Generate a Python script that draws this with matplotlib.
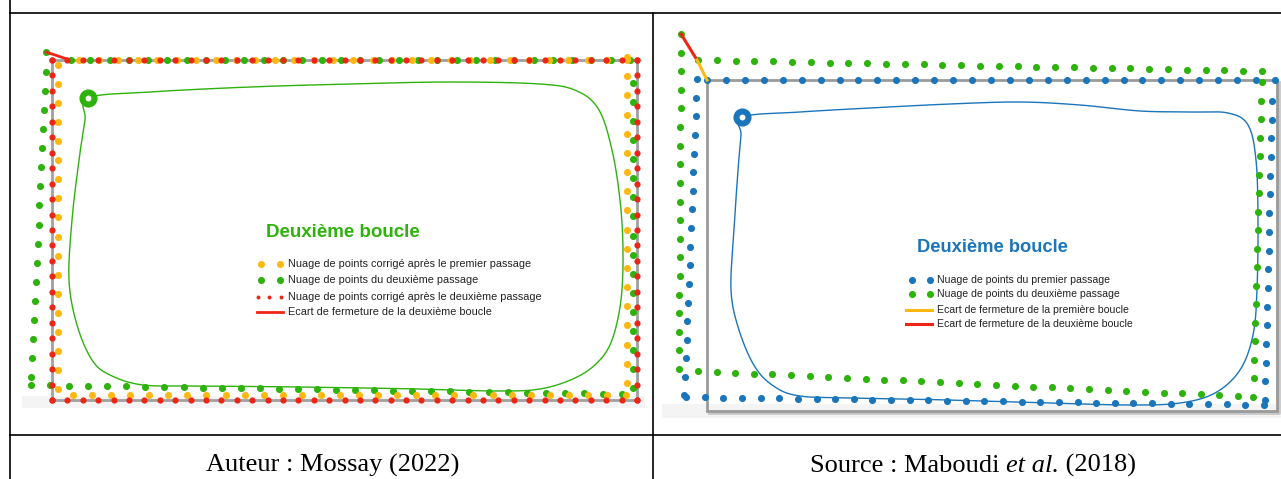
import numpy as np
import matplotlib.pyplot as plt

W, H = 1281, 479

GREEN = '#2eb20c'
YELLOW = '#fdb813'
RED = '#ee2414'
BLUE = '#1b75bb'
GREY = '#a0a0a0'

# ---- left panel (Mossay 2022) ----
left_frame = (52, 60, 637, 400)  # x0, y0, x1, y1

# dot chains: (x_start, y_start, x_end, y_end, number of dots)
left_red = [(52, 60, 637, 60, 39), (637, 60, 637, 400, 23),
            (52, 400, 637, 400, 39), (52, 60, 52, 400, 23)]
left_yellow = [(79, 60, 627, 60, 29), (58, 65, 58, 389, 18),
               (73, 395, 626, 395, 30), (627, 57, 627, 383, 18)]
left_green = [(46, 52, 46, 52, 1), (46, 72, 31, 377, 17),
              (71, 60, 630, 60, 30), (31, 385, 622, 394, 32),
              (633, 83, 633, 388, 17)]
left_gap = [(46, 52), (67, 59)]

left_track = [(88, 98), (150, 92), (250, 87), (350, 84), (450, 82), (540, 84),
              (577, 91), (599, 110), (612, 150), (620, 200), (623, 250),
              (621, 300), (612, 340), (598, 362), (575, 378), (540, 389),
              (495, 391), (420, 389), (300, 387), (200, 386), (143, 385),
              (110, 375), (92, 360), (77, 325), (69, 280), (72, 220),
              (79, 160), (85, 120)]

# ---- right panel (Maboudi et al. 2018) ----
right_frame = (707, 80, 1277, 411)

right_blue = [(707, 80, 1275, 80, 31), (697, 79, 685, 377, 17),
              (684, 395, 684, 395, 1), (686, 397, 1264, 405, 32),
              (1272, 101, 1265, 400, 17)]
right_green = [(681, 34, 679, 369, 19), (698, 60, 1262, 71, 31),
               (698, 371, 1238, 396, 30), (1262, 82, 1253, 397, 18)]
gap_first = [(697, 60), (707, 80)]
gap_second = [(681, 34), (697, 60)]

right_track = [(742, 117), (800, 112), (870, 108), (950, 104), (1020, 102),
               (1080, 105), (1140, 111), (1190, 112), (1228, 113), (1248, 125),
               (1256, 160), (1258, 220), (1257, 290), (1253, 335), (1240, 370),
               (1215, 393), (1180, 403), (1130, 405), (1050, 403), (950, 400),
               (850, 398), (800, 396), (775, 387), (755, 367), (739, 330),
               (731, 290), (734, 230), (738, 170), (741, 135)]


def chain(segments):
    xs, ys = [], []
    for x0, y0, x1, y1, n in segments:
        xs.append(np.linspace(x0, x1, n))
        ys.append(np.linspace(y0, y1, n))
    return np.concatenate(xs), np.concatenate(ys)


def smooth_loop(points, steps=24):
    # closed Catmull-Rom spline through the waypoints
    p = np.array(points, dtype=float)
    n = len(p)
    out = []
    t = np.linspace(0, 1, steps, endpoint=False)[:, None]
    for i in range(n):
        p0, p1, p2, p3 = p[i - 1], p[i], p[(i + 1) % n], p[(i + 2) % n]
        out.append(0.5 * ((2 * p1) + (-p0 + p2) * t
                          + (2 * p0 - 5 * p1 + 4 * p2 - p3) * t ** 2
                          + (-p0 + 3 * p1 - 3 * p2 + p3) * t ** 3))
    out.append(p[:1])
    return np.vstack(out)


def dots(ax, segments, color, size=26, z=3):
    x, y = chain(segments)
    ax.scatter(x, y, s=size, color=color, linewidths=0, zorder=z)


def frame(ax, box, lw=2.0, color=GREY):
    x0, y0, x1, y1 = box
    ax.plot([x0, x1, x1, x0, x0], [y0, y0, y1, y1, y0], color=color,
            lw=lw, zorder=2, solid_joinstyle='miter')


fig = plt.figure(figsize=(W / 100, H / 100), dpi=100)
ax = fig.add_axes([0, 0, 1, 1])
ax.set_xlim(0, W)
ax.set_ylim(H, 0)
ax.axis('off')

# faint background strips under each picture
ax.fill_between([22, 645], 396, 408, color='#f4f4f4', lw=0, zorder=0)
ax.fill_between([662, 1281], 404, 418, color='#f4f4f4', lw=0, zorder=0)

# table rules
ax.plot([10, W], [13, 13], color='black', lw=1.2)
ax.plot([10, W], [435, 435], color='black', lw=1.2)
ax.plot([10, 10], [0, H], color='black', lw=1.2)
ax.plot([653, 653], [13, H], color='black', lw=1.2)

# left panel
frame(ax, left_frame, lw=2.0)
track = smooth_loop(left_track)
ax.plot(track[:, 0], track[:, 1], color=GREEN, lw=1.0, zorder=2)
ax.scatter([left_track[0][0]], [left_track[0][1]], s=170, color=GREEN, lw=0, zorder=4)
ax.scatter([left_track[0][0]], [left_track[0][1]], s=18, color='white', lw=0, zorder=5)
dots(ax, left_green, GREEN, z=3)
dots(ax, left_yellow, YELLOW, z=3)
dots(ax, left_red, RED, size=20, z=4)
ax.plot(*zip(*left_gap), color=RED, lw=2.0, zorder=5)

ax.text(266, 232, 'Deuxième boucle', color=GREEN, fontsize=13.5,
        fontweight='bold', family='Liberation Sans', va='center')
leg_font = dict(fontsize=7.8, family='Liberation Sans', va='center', color='#222222')
ax.scatter([261, 280], [264, 264], s=26, color=YELLOW, lw=0)
ax.text(288, 264, 'Nuage de points corrigé après le premier passage', **leg_font)
ax.scatter([261, 280], [280, 280], s=26, color=GREEN, lw=0)
ax.text(288, 280, 'Nuage de points du deuxième passage', **leg_font)
ax.scatter([258, 269, 281], [297, 297, 297], s=8, color=RED, lw=0)
ax.text(288, 297, 'Nuage de points corrigé après le deuxième passage', **leg_font)
ax.plot([257, 283], [312, 312], color=RED, lw=2.0)
ax.text(288, 312, 'Ecart de fermeture de la deuxième boucle', **leg_font)

# right panel
ax.plot([709, 1279, 1279], [413, 413, 82], color='#c8c8c8', lw=2.0, zorder=1)
frame(ax, right_frame, lw=2.0, color='#9a9a9a')
track = smooth_loop(right_track)
ax.plot(track[:, 0], track[:, 1], color=BLUE, lw=1.0, zorder=2)
ax.scatter([right_track[0][0]], [right_track[0][1]], s=170, color=BLUE, lw=0, zorder=4)
ax.scatter([right_track[0][0]], [right_track[0][1]], s=18, color='white', lw=0, zorder=5)
dots(ax, right_blue, BLUE, z=3)
dots(ax, right_green, GREEN, z=3)
ax.plot(*zip(*gap_second), color=RED, lw=2.2, zorder=5)
ax.plot(*zip(*gap_first), color=YELLOW, lw=2.2, zorder=5)

ax.text(917, 247, 'Deuxième boucle', color=BLUE, fontsize=13.2,
        fontweight='bold', family='Liberation Sans', va='center')
leg_font_r = dict(leg_font, fontsize=7.6)
ax.scatter([912, 930], [280, 280], s=26, color=BLUE, lw=0)
ax.text(937, 280, 'Nuage de points du premier passage', **leg_font_r)
ax.scatter([912, 930], [294, 294], s=26, color=GREEN, lw=0)
ax.text(937, 294, 'Nuage de points du deuxième passage', **leg_font_r)
ax.plot([906, 932], [310, 310], color=YELLOW, lw=2.2)
ax.text(937, 310, 'Ecart de fermeture de la première boucle', **leg_font_r)
ax.plot([906, 932], [324, 324], color=RED, lw=2.2)
ax.text(937, 324, 'Ecart de fermeture de la deuxième boucle', **leg_font_r)

# captions
cap = dict(fontsize=19, family='Liberation Serif', color='black')
ax.text(333, 472, 'Auteur : Mossay (2022)', ha='center', va='baseline', **cap)
fig.canvas.draw()
part1 = ax.text(810, 472, 'Source : Maboudi ', ha='left', va='baseline', **cap)
part2 = ax.annotate('et al.', xy=(1, 0), xycoords=part1, ha='left', va='bottom',
                    fontstyle='italic', **cap)
ax.annotate(' (2018)', xy=(1, 0), xycoords=part2, ha='left', va='bottom', **cap)

fig.savefig('out.png', dpi=100)
